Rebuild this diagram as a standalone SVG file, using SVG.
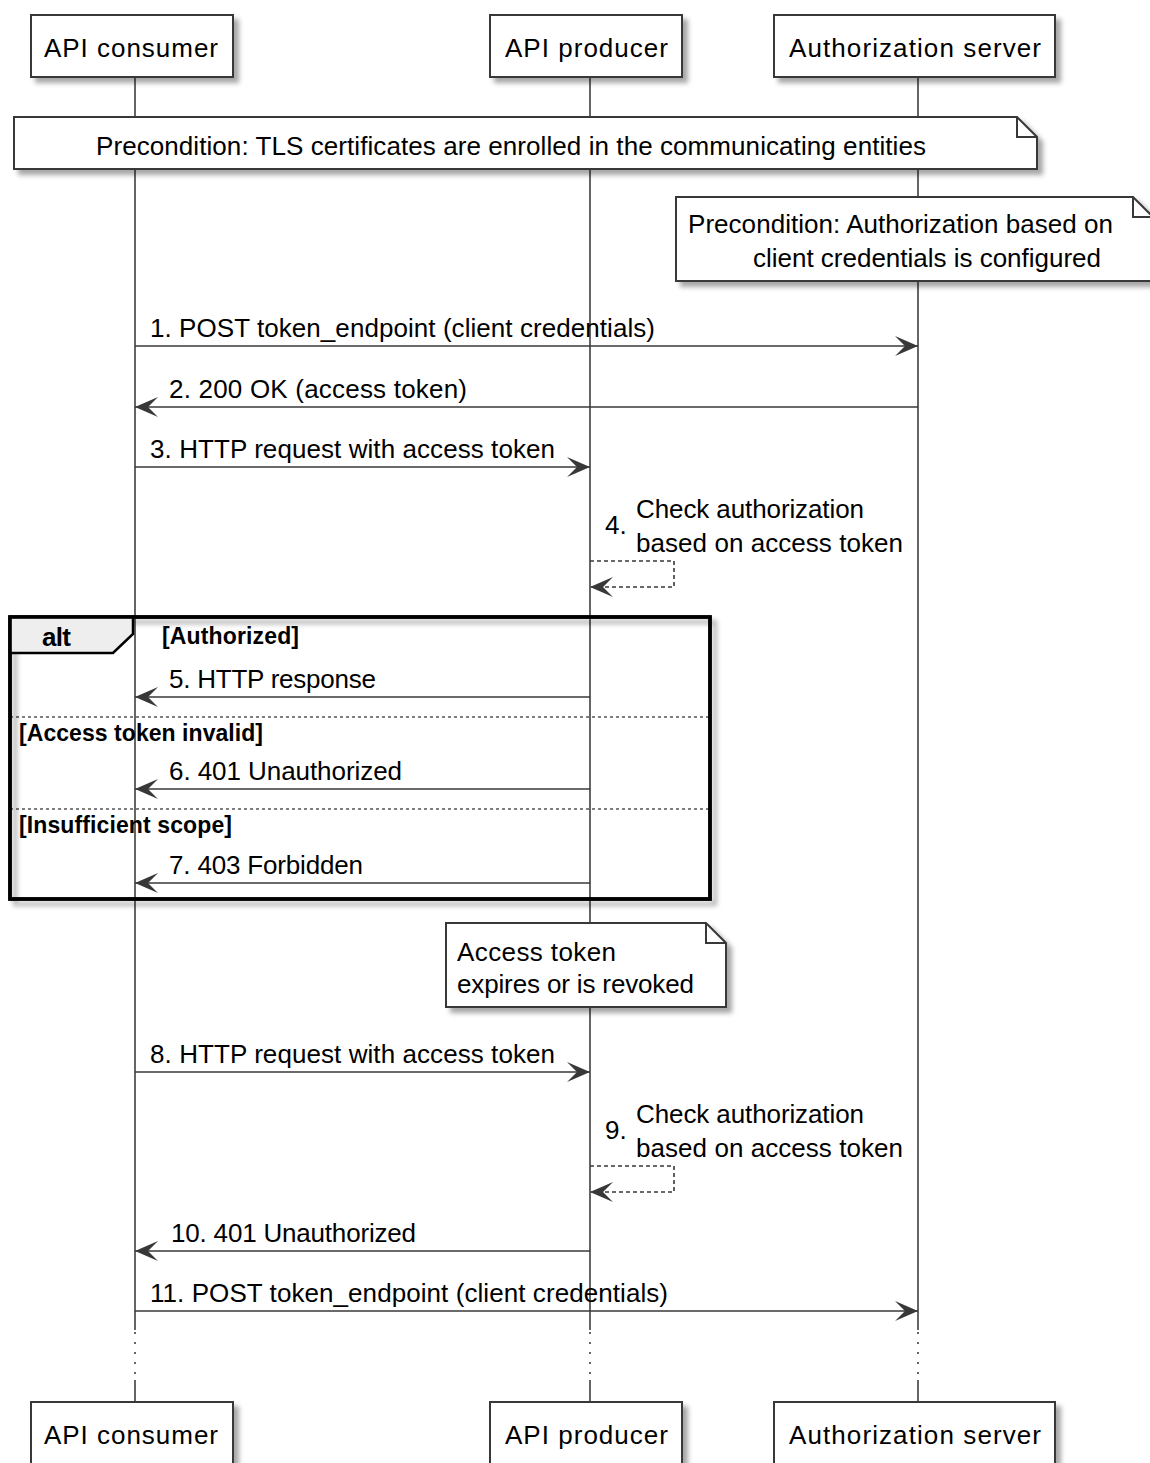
<svg xmlns="http://www.w3.org/2000/svg" width="1150" height="1463" viewBox="0 0 1150 1463">
<style>
  text { font-family: "Liberation Sans", Arial, sans-serif; font-size: 26px; fill: #000; }
  .b { font-weight: bold; font-size: 23px; }
  .alt { font-weight: bold; font-size: 26px; }
  .box { fill: #fff; stroke: #383838; stroke-width: 2; }
  .life { stroke: #404040; stroke-width: 1.6; fill: none; }
  .dot { stroke: #404040; stroke-width: 1.6; stroke-dasharray: 2 8; fill: none; }
  .msg { stroke: #383838; stroke-width: 1.6; fill: none; }
  .dash { stroke: #383838; stroke-width: 1.6; fill: none; stroke-dasharray: 4 3; }
  .sep { stroke: #000; stroke-width: 1.2; stroke-dasharray: 3 3; }
  .frame { fill: none; stroke: #000; stroke-width: 3.5; }
</style>
<defs>
  <filter id="sh" x="-10%" y="-10%" width="130%" height="140%">
    <feDropShadow dx="5" dy="5" stdDeviation="2.5" flood-color="#000" flood-opacity="0.35"/>
  </filter>
  <marker id="ah" viewBox="0 0 24 20" refX="23" refY="10" markerWidth="24" markerHeight="20" markerUnits="userSpaceOnUse" orient="auto">
    <path d="M0,0 L23,10 L0,20 L10,10 Z" fill="#383838" stroke="none"/>
  </marker>
</defs>

<!-- lifelines -->
<g id="lifelines">
  <path class="life" d="M135,77 V1330 M135,1380 V1402"/>
  <path class="dot" d="M135,1332 V1380"/>
  <path class="life" d="M590,77 V1330 M590,1380 V1402"/>
  <path class="dot" d="M590,1332 V1380"/>
  <path class="life" d="M918,77 V1330 M918,1380 V1402"/>
  <path class="dot" d="M918,1332 V1380"/>
</g>

<!-- participants top -->
<g id="p-consumer-top">
  <rect class="box" x="31" y="15" width="202" height="62" filter="url(#sh)"/>
  <text x="44" y="57" textLength="174" lengthAdjust="spacing">API consumer</text>
</g>
<g id="p-producer-top">
  <rect class="box" x="490" y="15" width="192" height="62" filter="url(#sh)"/>
  <text x="505" y="57" textLength="163" lengthAdjust="spacing">API producer</text>
</g>
<g id="p-auth-top">
  <rect class="box" x="774" y="15" width="281" height="62" filter="url(#sh)"/>
  <text x="789" y="57" textLength="252" lengthAdjust="spacing">Authorization server</text>
</g>

<!-- notes -->
<g id="note-tls">
  <path class="box" d="M14,117 H1017 L1037,137 V169 H14 Z" filter="url(#sh)"/>
  <path d="M1017,117 V137 H1037" fill="none" stroke="#383838" stroke-width="2"/>
  <text x="96" y="155" textLength="830" lengthAdjust="spacing">Precondition: TLS certificates are enrolled in the communicating entities</text>
</g>
<g id="note-authz">
  <path class="box" d="M676,197 H1133 L1153,217 V281 H676 Z" filter="url(#sh)"/>
  <path d="M1133,197 V217 H1153" fill="none" stroke="#383838" stroke-width="2"/>
  <text x="688" y="233" textLength="425" lengthAdjust="spacing">Precondition: Authorization based on</text>
  <text x="753" y="267" textLength="348" lengthAdjust="spacing">client credentials is configured</text>
</g>

<!-- alt frame -->
<g id="alt-frame">
  <rect class="frame" x="10" y="617" width="700" height="282" filter="url(#sh)"/>
  <path d="M10,617 H133 V634 L113,653 H10 Z" fill="#eeeeee" stroke="#000" stroke-width="2.5"/>
  <rect class="frame" x="10" y="617" width="700" height="282"/>
  <text class="alt" x="42" y="646" textLength="29" lengthAdjust="spacing">alt</text>
  <text class="b" x="162" y="644" textLength="137" lengthAdjust="spacing">[Authorized]</text>
  <line class="sep" x1="10" y1="717" x2="710" y2="717"/>
  <text class="b" x="19" y="741" textLength="244" lengthAdjust="spacing">[Access token invalid]</text>
  <line class="sep" x1="10" y1="809" x2="710" y2="809"/>
  <text class="b" x="19" y="833" textLength="213" lengthAdjust="spacing">[Insufficient scope]</text>
</g>

<g id="note-expire">
  <path class="box" d="M446,923 H706 L726,943 V1007 H446 Z" filter="url(#sh)"/>
  <path d="M706,923 V943 H726" fill="none" stroke="#383838" stroke-width="2"/>
  <text x="457" y="961" textLength="159" lengthAdjust="spacing">Access token</text>
  <text x="457" y="993" textLength="237" lengthAdjust="spacing">expires or is revoked</text>
</g>

<!-- connectors -->
<g id="connectors">
  <line class="msg" x1="135" y1="346" x2="918" y2="346" marker-end="url(#ah)"/>
  <text x="150" y="337" textLength="505" lengthAdjust="spacing">1. POST token_endpoint (client credentials)</text>

  <line class="msg" x1="918" y1="407" x2="135" y2="407" marker-end="url(#ah)"/>
  <text x="169" y="398" textLength="298" lengthAdjust="spacing">2. 200 OK (access token)</text>

  <line class="msg" x1="135" y1="467" x2="590" y2="467" marker-end="url(#ah)"/>
  <text x="150" y="458" textLength="405" lengthAdjust="spacing">3. HTTP request with access token</text>

  <path class="dash" d="M590,561 H674 V587 H590" marker-end="url(#ah)"/>
  <text x="605" y="534">4.</text>
  <text x="636" y="518" textLength="228" lengthAdjust="spacing">Check authorization</text>
  <text x="636" y="552" textLength="267" lengthAdjust="spacing">based on access token</text>

  <line class="msg" x1="590" y1="697" x2="135" y2="697" marker-end="url(#ah)"/>
  <text x="169" y="688" textLength="207" lengthAdjust="spacing">5. HTTP response</text>

  <line class="msg" x1="590" y1="789" x2="135" y2="789" marker-end="url(#ah)"/>
  <text x="169" y="780" textLength="233" lengthAdjust="spacing">6. 401 Unauthorized</text>

  <line class="msg" x1="590" y1="883" x2="135" y2="883" marker-end="url(#ah)"/>
  <text x="169" y="874" textLength="194" lengthAdjust="spacing">7. 403 Forbidden</text>

  <line class="msg" x1="135" y1="1072" x2="590" y2="1072" marker-end="url(#ah)"/>
  <text x="150" y="1063" textLength="405" lengthAdjust="spacing">8. HTTP request with access token</text>

  <path class="dash" d="M590,1166 H674 V1192 H590" marker-end="url(#ah)"/>
  <text x="605" y="1139">9.</text>
  <text x="636" y="1123" textLength="228" lengthAdjust="spacing">Check authorization</text>
  <text x="636" y="1157" textLength="267" lengthAdjust="spacing">based on access token</text>

  <line class="msg" x1="590" y1="1251" x2="135" y2="1251" marker-end="url(#ah)"/>
  <text x="171" y="1242" textLength="245" lengthAdjust="spacing">10. 401 Unauthorized</text>

  <line class="msg" x1="135" y1="1311" x2="918" y2="1311" marker-end="url(#ah)"/>
  <text x="150" y="1302" textLength="518" lengthAdjust="spacing">11. POST token_endpoint (client credentials)</text>
</g>

<!-- participants bottom -->
<g id="p-consumer-bottom">
  <rect class="box" x="31" y="1402" width="202" height="62" filter="url(#sh)"/>
  <text x="44" y="1444" textLength="174" lengthAdjust="spacing">API consumer</text>
</g>
<g id="p-producer-bottom">
  <rect class="box" x="490" y="1402" width="192" height="62" filter="url(#sh)"/>
  <text x="505" y="1444" textLength="163" lengthAdjust="spacing">API producer</text>
</g>
<g id="p-auth-bottom">
  <rect class="box" x="774" y="1402" width="281" height="62" filter="url(#sh)"/>
  <text x="789" y="1444" textLength="252" lengthAdjust="spacing">Authorization server</text>
</g>
</svg>
